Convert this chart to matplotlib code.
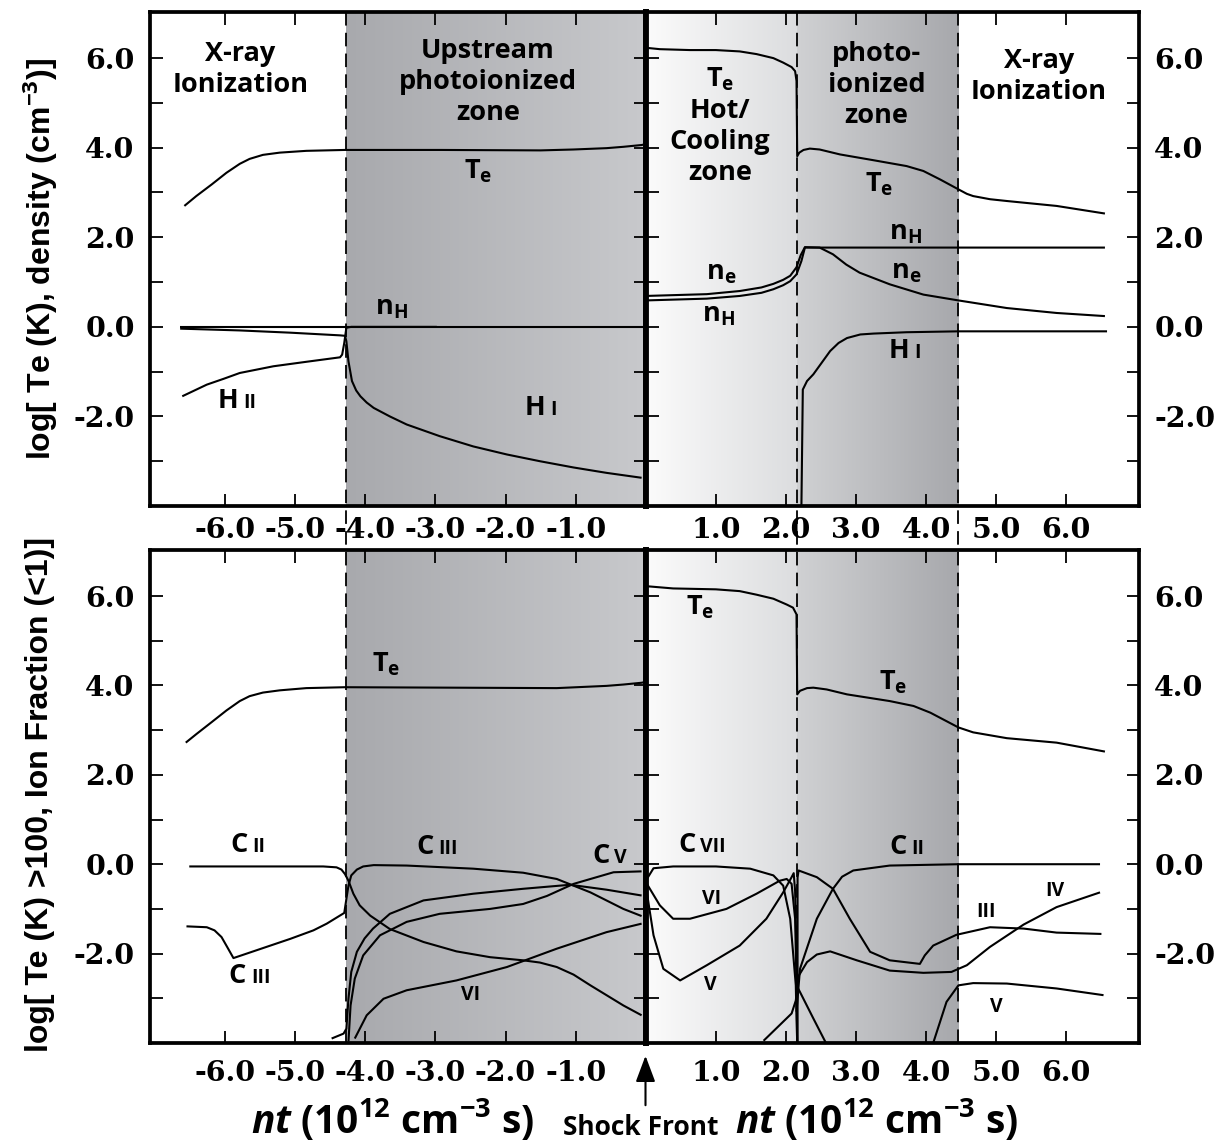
import numpy as np
import matplotlib
matplotlib.use("Agg")
import matplotlib.pyplot as plt
from matplotlib import font_manager, transforms, colors
from matplotlib.lines import Line2D
from matplotlib.patches import FancyArrowPatch
from matplotlib.offsetbox import TextArea, HPacker, AnnotationBbox

# ------------------------------------------------------------------ data
XT_LEFT = [-6, -5, -4, -3, -2, -1]
XT_LEFT_LABELS = ["-6.0", "-5.0", "-4.0", "-3.0", "-2.0", "-1.0"]
XT_RIGHT = [1, 2, 3, 4, 5, 6]
XT_RIGHT_LABELS = ["1.0", "2.0", "3.0", "4.0", "5.0", "6.0"]
YT_MAJOR = [-2, 0, 2, 4, 6]
YT_LABELS = ["-2.0", "0.0", "2.0", "4.0", "6.0"]
YT_MINOR = [-3, -1, 1, 3, 5]

# zone boundaries (nt, 1e12 cm^-3 s)
ZONE_EDGES = [-4.28, 2.15, 4.45]

# --- upper panel, upstream side
te_up_l_x = [-6.58, -6.41, -6.19, -5.98, -5.79, -5.65, -5.46, -5.22, -4.84, -4.29, -2.93, -1.50, -1.03, -0.56, -0.32, -0.06, 0.0]
te_up_l_y = [2.70, 2.92, 3.18, 3.44, 3.64, 3.75, 3.84, 3.89, 3.93, 3.95, 3.95, 3.94, 3.96, 3.99, 4.02, 4.06, 4.08]
nh_up_l_x = [-6.64, 0.0]
nh_up_l_y = [0.0, 0.0]
h_a_up_l_x = [-6.64, -5.79, -5.07, -4.36, -4.29, -4.27, -4.24, -4.19, -4.13, -4.07, -3.98, -3.88, -3.65, -3.41, -2.94, -2.46, -1.98, -1.51, -1.03, -0.56, -0.06]
h_a_up_l_y = [-0.04, -0.08, -0.13, -0.19, -0.20, -0.32, -0.77, -1.21, -1.42, -1.55, -1.69, -1.81, -2.00, -2.18, -2.44, -2.67, -2.85, -3.00, -3.14, -3.26, -3.37]
h_b_up_l_x = [-6.61, -6.26, -6.02, -5.79, -5.31, -4.84, -4.36, -4.33, -4.30, -4.27, -4.20, -2.98]
h_b_up_l_y = [-1.55, -1.29, -1.16, -1.03, -0.88, -0.78, -0.68, -0.62, -0.36, -0.02, 0.0, 0.0]

# --- upper panel, downstream side
te_up_r_x = [0.0, 0.01, 0.20, 0.63, 1.00, 1.34, 1.58, 1.82, 1.96, 2.08, 2.13, 2.15, 2.16, 2.19, 2.25, 2.34, 2.48, 2.77, 3.25, 3.72, 3.96, 4.20, 4.46, 4.58, 4.67, 4.91, 5.15, 5.86, 6.55]
te_up_r_y = [6.35, 6.23, 6.20, 6.18, 6.18, 6.15, 6.09, 6.00, 5.90, 5.80, 5.71, 5.49, 3.81, 3.89, 3.95, 3.98, 3.96, 3.85, 3.72, 3.59, 3.48, 3.29, 3.07, 2.97, 2.92, 2.85, 2.81, 2.70, 2.53]
nh_up_r_x = [0.0, 0.87, 1.34, 1.65, 1.82, 1.96, 2.06, 2.15, 2.22, 2.27, 6.55]
nh_up_r_y = [0.59, 0.63, 0.69, 0.76, 0.84, 0.93, 1.02, 1.17, 1.47, 1.77, 1.77]
ne_up_r_x = [0.0, 0.87, 1.34, 1.65, 1.82, 1.96, 2.06, 2.15, 2.21, 2.27, 2.48, 2.67, 2.86, 3.05, 3.48, 3.96, 4.46, 5.15, 5.86, 6.55]
ne_up_r_y = [0.69, 0.73, 0.80, 0.88, 0.96, 1.05, 1.14, 1.33, 1.60, 1.78, 1.77, 1.62, 1.39, 1.21, 0.95, 0.72, 0.59, 0.42, 0.31, 0.24]
hi_up_r_x = [2.22, 2.24, 2.30, 2.39, 2.51, 2.63, 2.75, 2.87, 3.06, 3.25, 3.72, 4.46, 6.58]
hi_up_r_y = [-4.00, -1.40, -1.21, -1.06, -0.80, -0.54, -0.36, -0.25, -0.17, -0.15, -0.12, -0.10, -0.10]

# --- lower panel, upstream side
te_lo_l_x = [-6.56, -6.41, -6.19, -5.98, -5.79, -5.65, -5.46, -5.22, -4.84, -4.29, -1.27, -0.56, -0.32, -0.06, 0.0]
te_lo_l_y = [2.72, 2.91, 3.18, 3.44, 3.65, 3.76, 3.84, 3.89, 3.94, 3.96, 3.94, 3.99, 4.02, 4.06, 4.08]
c2_l_x = [-6.51, -4.60, -4.41, -4.34, -4.29, -4.24, -4.17, -4.08, -3.93, -3.65, -3.17, -2.70, -2.22, -1.75, -1.51, -1.27, -1.03, -0.79, -0.56, -0.32, -0.06]
c2_l_y = [-0.05, -0.05, -0.07, -0.12, -0.22, -0.37, -0.66, -0.92, -1.15, -1.45, -1.74, -1.95, -2.08, -2.15, -2.20, -2.30, -2.47, -2.71, -2.93, -3.16, -3.38]
c3_l_x = [-6.55, -6.26, -6.15, -6.05, -5.97, -5.88, -5.07, -4.74, -4.55, -4.30, -4.27, -4.24, -4.20, -4.12, -4.03, -3.88, -3.41, -2.46, -1.75, -1.27, -0.79, -0.32, -0.06]
c3_l_y = [-1.39, -1.41, -1.48, -1.63, -1.85, -2.10, -1.67, -1.48, -1.33, -1.09, -0.78, -0.48, -0.25, -0.12, -0.05, -0.02, -0.03, -0.10, -0.19, -0.33, -0.63, -1.00, -1.16]
c4_l_x = [-4.48, -4.31, -4.27, -4.24, -4.20, -4.12, -4.01, -3.89, -3.65, -3.17, -2.46, -1.75, -1.08, -0.56, -0.06]
c4_l_y = [-3.90, -3.79, -3.68, -3.01, -2.41, -1.96, -1.66, -1.44, -1.11, -0.81, -0.66, -0.55, -0.46, -0.57, -0.70]
c5_l_x = [-4.24, -4.21, -4.15, -4.03, -3.79, -3.41, -2.94, -2.22, -1.75, -1.41, -1.03, -0.46, -0.06]
c5_l_y = [-3.97, -3.16, -2.56, -2.04, -1.59, -1.29, -1.11, -1.00, -0.89, -0.71, -0.44, -0.18, -0.16]
c6_l_x = [-4.15, -3.98, -3.74, -3.41, -2.70, -1.98, -1.27, -0.56, -0.06]
c6_l_y = [-3.90, -3.38, -3.01, -2.82, -2.60, -2.30, -1.89, -1.52, -1.33]

# --- lower panel, downstream side
te_lo_r_x = [0.0, 0.01, 0.39, 1.00, 1.34, 1.58, 1.82, 2.01, 2.10, 2.15, 2.16, 2.20, 2.30, 2.39, 2.58, 2.87, 3.48, 3.82, 4.06, 4.46, 4.67, 5.15, 5.86, 6.55]
te_lo_r_y = [6.26, 6.22, 6.17, 6.15, 6.11, 6.03, 5.94, 5.81, 5.74, 5.59, 3.80, 3.88, 3.94, 3.95, 3.91, 3.80, 3.65, 3.54, 3.39, 3.06, 2.95, 2.82, 2.72, 2.52]
c7_r_x = [0.0, 0.11, 0.39, 1.00, 1.49, 1.82, 1.96, 2.06, 2.10, 2.14, 2.15, 2.16]
c7_r_y = [-0.37, -0.09, -0.05, -0.05, -0.10, -0.25, -0.48, -1.22, -1.96, -2.71, -3.45, -4.00]
c6_r_x = [0.0, 0.20, 0.39, 0.63, 1.15, 1.58, 1.91, 2.01, 2.08, 2.13, 2.15, 2.20, 2.39, 2.57]
c6_r_y = [-0.40, -0.92, -1.22, -1.22, -1.00, -0.66, -0.37, -0.33, -0.44, -1.22, -2.71, -2.86, -3.45, -4.00]
c5_r_x = [0.0, 0.11, 0.25, 0.49, 0.87, 1.34, 1.72, 1.96, 2.08, 2.11, 2.13, 2.15, 2.16]
c5_r_y = [-0.48, -1.59, -2.34, -2.60, -2.26, -1.82, -1.22, -0.63, -0.29, -0.20, -0.60, -2.00, -4.00]
c3_r_x = [2.165, 2.165, 2.18, 2.44, 2.67, 2.91, 3.20, 3.48, 3.91, 3.98, 4.10, 4.43, 4.91, 5.39, 5.86, 6.50]
c3_r_y = [-4.00, -0.30, -0.14, -0.29, -0.55, -1.22, -1.96, -2.15, -2.23, -2.04, -1.82, -1.58, -1.41, -1.44, -1.53, -1.56]
c2_r_x = [2.15, 2.20, 2.44, 2.67, 2.80, 2.96, 3.48, 4.46, 6.48]
c2_r_y = [-3.30, -2.34, -1.22, -0.55, -0.28, -0.14, -0.03, 0.0, 0.0]
c4_r_x = [1.68, 2.08, 2.14, 2.18, 2.30, 2.44, 2.63, 3.01, 3.48, 3.96, 4.36, 4.58, 4.91, 5.39, 5.86, 6.48]
c4_r_y = [-3.95, -3.34, -3.05, -2.50, -2.19, -2.02, -1.95, -2.15, -2.38, -2.43, -2.41, -2.26, -1.85, -1.35, -0.96, -0.63]
c5b_r_x = [4.10, 4.29, 4.46, 4.67, 5.15, 5.86, 6.53]
c5b_r_y = [-4.00, -3.08, -2.71, -2.66, -2.67, -2.78, -2.93]

# ------------------------------------------------------------------ fonts
def has_face(name, bold=True, italic=False):
    for f in font_manager.fontManager.ttflist:
        if f.name != name:
            continue
        w = f.weight
        if not isinstance(w, (int, float)):
            w = font_manager.weight_dict.get(str(w), 400)
        if (w >= 600) == bold and (f.style in ("italic", "oblique")) == italic:
            return True
    return False

SANS = next((n for n in ["Open Sans", "Lato", "Noto Sans", "Roboto"] if has_face(n)), "DejaVu Sans")
SANS_IT = SANS if has_face(SANS, True, True) else next(
    (n for n in ["Open Sans", "Lato", "Noto Sans", "Roboto", "DejaVu Sans"] if has_face(n, True, True)), "DejaVu Sans")
NARROW = next((n for n in ["Liberation Sans Narrow", "Liberation Sans", "Roboto"] if has_face(n)), SANS)
SERIF = "DejaVu Serif"

plt.rcParams["axes.unicode_minus"] = False
plt.rcParams["mathtext.fontset"] = "custom"
plt.rcParams["mathtext.rm"] = f"{SANS}:bold"
plt.rcParams["mathtext.bf"] = f"{SANS}:bold"
plt.rcParams["mathtext.it"] = f"{SANS_IT}:italic:bold"

LBL = 19.5
TICK = 20.5

# ------------------------------------------------------------------ figure
W, H = 1216, 1146
fig = plt.figure(figsize=(W / 100, H / 100), dpi=100)

YLIM = (-4.0, 7.03)
XL_LIM = (-7.07, 0.0)
XR_LIM = (0.0, 7.036)
PANEL_ROWS = [(1 - 506 / H, (506 - 12) / H), (1 - 1043 / H, (1043 - 550) / H)]
LEFT_X0, LEFT_W = 150 / W, (645.8 - 150) / W
RIGHT_X0, RIGHT_W = 645.8 / W, (1139 - 645.8) / W

def gradient(ax, x0, x1, c0, c1):
    a = np.array(colors.to_rgb(c0))
    b = np.array(colors.to_rgb(c1))
    t = np.linspace(0, 1, 256)[:, None]
    img = (a * (1 - t) + b * t)[None, :, :]
    ax.imshow(img, extent=[x0, x1, YLIM[0], YLIM[1]], aspect="auto",
              interpolation="bilinear", zorder=0)

def style(ax, side, xpad):
    for s in ax.spines.values():
        s.set_linewidth(2.7)
    if side == "left":
        ax.spines["right"].set_linewidth(4.2)
        ax.set_xlim(*XL_LIM)
        ax.set_xticks(XT_LEFT)
        ax.set_xticklabels(XT_LEFT_LABELS)
    else:
        ax.spines["left"].set_linewidth(4.2)
        ax.set_xlim(*XR_LIM)
        ax.set_xticks(XT_RIGHT)
        ax.set_xticklabels(XT_RIGHT_LABELS)
    ax.set_ylim(*YLIM)
    ax.set_yticks(YT_MAJOR)
    ax.set_yticks(YT_MINOR, minor=True)
    ax.set_yticklabels(YT_LABELS)
    ax.tick_params(axis="both", which="both", direction="in", length=9, width=1.3,
                   top=True, bottom=True, left=True, right=True,
                   labelleft=(side == "left"), labelright=(side == "right"),
                   labelbottom=True, labeltop=False)
    ax.tick_params(axis="y", which="both", pad=11, labelsize=TICK)
    ax.tick_params(axis="x", which="both", pad=xpad, labelsize=TICK)
    for t in ax.get_xticklabels() + ax.get_yticklabels():
        t.set_fontfamily(SERIF)
        t.set_fontweight("bold")

def curve(ax, x, y):
    ax.plot(x, y, color="black", lw=1.5, zorder=3, solid_joinstyle="round",
            solid_capstyle="butt")

def label(ax, x, y, s, size=LBL):
    ax.text(x, y, s, ha="center", va="center", multialignment="center",
            fontsize=size, fontweight="bold", family=SANS, zorder=4,
            linespacing=1.25)

def ion(ax, x, y, main, numeral):
    kids = []
    if main:
        kids.append(TextArea(main, textprops=dict(fontsize=LBL, fontweight="bold", family=SANS)))
    kids.append(TextArea(numeral, textprops=dict(fontsize=LBL * 0.72, fontweight="bold", family=SANS)))
    box = HPacker(children=kids, align="baseline", pad=0, sep=3.5)
    ab = AnnotationBbox(box, (x, y), xycoords="data", frameon=False,
                        box_alignment=(0.5, 0.5), pad=0, zorder=4)
    ax.add_artist(ab)

axes = []
for row, (y0, h) in enumerate(PANEL_ROWS):
    axl = fig.add_axes([LEFT_X0, y0, LEFT_W, h])
    axr = fig.add_axes([RIGHT_X0, y0, RIGHT_W, h])
    gradient(axl, ZONE_EDGES[0], 0.0, "#a8a9ad", "#c8c9cc")
    gradient(axr, 0.0, ZONE_EDGES[1], "#fbfbfb", "#dcdddf")
    gradient(axr, ZONE_EDGES[1], ZONE_EDGES[2], "#d0d1d3", "#a7a8ac")
    style(axl, "left", 8 if row == 0 else 12)
    style(axr, "right", 8 if row == 0 else 12)
    axes.append((axl, axr))

(a1l, a1r), (a2l, a2r) = axes

# ---- upper panel: temperature, densities, hydrogen ions
for xs, ys in [(te_up_l_x, te_up_l_y), (nh_up_l_x, nh_up_l_y),
               (h_a_up_l_x, h_a_up_l_y), (h_b_up_l_x, h_b_up_l_y)]:
    curve(a1l, xs, ys)
for xs, ys in [(te_up_r_x, te_up_r_y), (nh_up_r_x, nh_up_r_y),
               (ne_up_r_x, ne_up_r_y), (hi_up_r_x, hi_up_r_y)]:
    curve(a1r, xs, ys)

label(a1l, -5.78, 5.74, "X-ray\nIonization")
label(a1l, -2.25, 5.46, "Upstream\nphotoionized\nzone")
label(a1l, -2.39, 3.48, r"$\mathrm{T_e}$")
label(a1l, -3.62, 0.42, r"$\mathrm{n_H}$")
ion(a1l, -5.83, -1.65, "H", "II")
ion(a1l, -1.50, -1.81, "H", "I")

label(a1r, 1.06, 4.50, "$\\mathrm{T_e}$\nHot/\nCooling\nzone")
label(a1r, 3.29, 5.40, "photo-\nionized\nzone")
label(a1r, 5.61, 5.60, "X-ray\nIonization")
label(a1r, 3.33, 3.18, r"$\mathrm{T_e}$")
label(a1r, 3.70, 2.10, r"$\mathrm{n_H}$")
label(a1r, 3.71, 1.23, r"$\mathrm{n_e}$")
label(a1r, 1.07, 1.21, r"$\mathrm{n_e}$")
label(a1r, 1.04, 0.26, r"$\mathrm{n_H}$")
ion(a1r, 3.70, -0.54, "H", "I")

# ---- lower panel: temperature and carbon ion fractions
for xs, ys in [(te_lo_l_x, te_lo_l_y), (c2_l_x, c2_l_y), (c3_l_x, c3_l_y),
               (c4_l_x, c4_l_y), (c5_l_x, c5_l_y), (c6_l_x, c6_l_y)]:
    curve(a2l, xs, ys)
for xs, ys in [(te_lo_r_x, te_lo_r_y), (c7_r_x, c7_r_y), (c6_r_x, c6_r_y),
               (c5_r_x, c5_r_y), (c3_r_x, c3_r_y), (c2_r_x, c2_r_y),
               (c4_r_x, c4_r_y), (c5b_r_x, c5b_r_y)]:
    curve(a2r, xs, ys)

label(a2l, -3.70, 4.47, r"$\mathrm{T_e}$")
ion(a2l, -5.67, 0.43, "C", "II")
ion(a2l, -2.98, 0.39, "C", "III")
ion(a2l, -0.52, 0.19, "C", "V")
ion(a2l, -5.65, -2.49, "C", "III")
ion(a2l, -2.50, -2.93, None, "VI")

label(a2r, 0.78, 5.74, r"$\mathrm{T_e}$")
label(a2r, 3.53, 4.08, r"$\mathrm{T_e}$")
ion(a2r, 0.80, 0.43, "C", "VII")
ion(a2r, 3.72, 0.38, "C", "II")
ion(a2r, 0.94, -0.77, None, "VI")
ion(a2r, 0.92, -2.71, None, "V")
ion(a2r, 4.86, -1.07, None, "III")
ion(a2r, 5.84, -0.59, None, "IV")
ion(a2r, 5.00, -3.19, None, "V")

# ---- zone boundaries running through both panels
y_bot = PANEL_ROWS[1][0]
y_top = PANEL_ROWS[0][0] + PANEL_ROWS[0][1]
for xe in ZONE_EDGES:
    ref = a1l if xe < 0 else a1r
    tr = transforms.blended_transform_factory(ref.transData, fig.transFigure)
    fig.add_artist(Line2D([xe, xe], [y_bot, y_top], transform=tr, color="black",
                          lw=1.3, ls=(0, (7.5, 4.0)), zorder=5))

# ---- axis titles
fig.text(40 / W, 1 - 259 / H, r"log[ Te (K), density (cm$^{-3}$)]", rotation=90,
         ha="center", va="center", fontsize=23, fontweight="bold", family=NARROW)
fig.text(40 / W, 1 - 795 / H, "log[ Te (K) >100, Ion Fraction (<1)]", rotation=90,
         ha="center", va="center", fontsize=23, fontweight="bold", family=NARROW)

xlab = r"$nt$ (10$^{12}$ cm$^{-3}$ s)"
fig.text(393 / W, 1 - 1133 / H, xlab, ha="center", va="baseline",
         fontsize=28, fontweight="bold", family=SANS)
fig.text(877 / W, 1 - 1133 / H, xlab, ha="center", va="baseline",
         fontsize=28, fontweight="bold", family=SANS)

fig.text(640.5 / W, 1 - 1135 / H, "Shock Front", ha="center", va="baseline",
         fontsize=19, fontweight="bold", family=SANS)
fig.add_artist(FancyArrowPatch(
    (645.5 / W, 1 - 1108 / H), (645.5 / W, 1 - 1053 / H), transform=fig.transFigure,
    arrowstyle="-|>,head_length=0.8,head_width=0.3", mutation_scale=20,
    lw=1.5, color="black"))

fig.savefig("out.png", dpi=100)
